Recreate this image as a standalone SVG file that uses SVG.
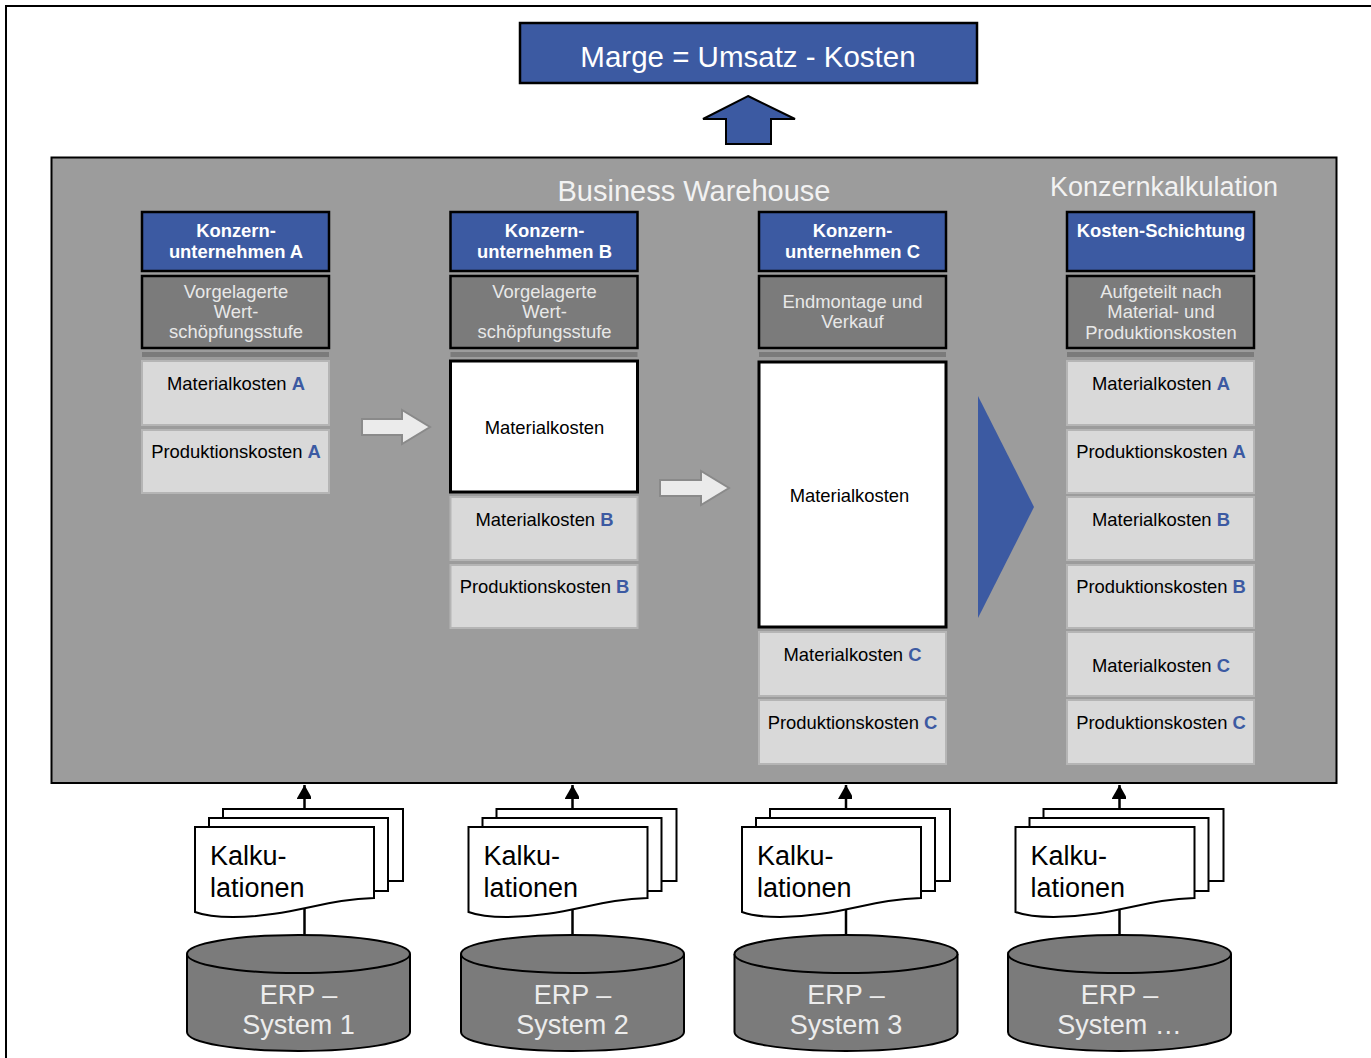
<svg xmlns="http://www.w3.org/2000/svg" width="1371" height="1058" viewBox="0 0 1371 1058">
<style>
text{font-family:"Liberation Sans",Arial,sans-serif;text-anchor:middle}
.blue{fill:#3c5aa2;stroke:#000;stroke-width:2.5}
.dark{fill:#7b7b7b;stroke:#000;stroke-width:2.5}
.light{fill:#d9d9d9;stroke:#b5b5b5;stroke-width:2}
.white{fill:#fff;stroke:#000;stroke-width:3}
.bar{fill:#7b7b7b}
.h{font-size:18.4px;font-weight:bold;fill:#fff}
.g{font-size:18.4px;fill:#e8e8e8}
.t{font-size:18.4px;fill:#000}
.t tspan{font-weight:bold;fill:#3c5aa2}
.big{font-size:27px;fill:#f2f2f2}
.page{fill:#fff;stroke:#000;stroke-width:2}
.kal{font-size:27px;fill:#000;text-anchor:start}
.cyl{fill:#7b7b7b;stroke:#000;stroke-width:2}
.erp{font-size:27px;fill:#ececec}
.gr{fill:#ebebeb;stroke:#8a8a8a;stroke-width:2}
.ln{stroke:#000;stroke-width:2.5;fill:none}
</style>
<defs>
<marker id="ah" markerUnits="userSpaceOnUse" markerWidth="16" markerHeight="14" refX="14" refY="8" orient="auto"><path d="M0 0L14 8L0 16Z" fill="#000"/></marker>
<g id="stack">
<path class="page" d="M28 -18H208V54H28Z"/>
<path class="page" d="M14 -9H193V64H14Z"/>
<path class="page" d="M0 0H179V71C130 72 95 90 38 90C20 90 8 88 0 85Z"/>
</g>
<g id="cylinder">
<path class="cyl" d="M0 19V97C0 108 50 116 111.500 116C173 116 223 108 223 97V19"/>
<ellipse class="cyl" cx="111.500" cy="19" rx="111.500" ry="19"/>
</g>
</defs>
<path id="frame" d="M6 1058V6H1371" fill="none" stroke="#000" stroke-width="2"/>
<g id="marge">
<rect class="blue" x="520" y="23" width="457" height="60"/>
<text x="748" y="67" style="font-size:29.500px;fill:#fff">Marge = Umsatz - Kosten</text>
</g>
<g id="marge-arrow"><path class="blue" style="stroke-width:2" d="M748 96L795 119H771V144H726V119H703Z"/></g>
<g id="panel">
<rect x="51.500" y="157.500" width="1285" height="625.500" fill="#9c9c9c" stroke="#000" stroke-width="2"/>
<text x="694" y="201" class="big" style="font-size:29px">Business Warehouse</text>
<text x="1164" y="196" class="big">Konzernkalkulation</text>
</g>
<g id="col-a">
<rect class="blue" x="142" y="212" width="187" height="59"/>
<text class="h" x="236" y="237">Konzern-</text><text class="h" x="236" y="258">unternehmen A</text>
<rect class="dark" x="142" y="276" width="187" height="72"/>
<text class="g" x="236" y="298">Vorgelagerte</text><text class="g" x="236" y="318">Wert-</text><text class="g" x="236" y="338">schöpfungsstufe</text>
<rect class="bar" x="142" y="352" width="187" height="5"/>
<rect class="light" x="142" y="361" width="187" height="64"/>
<text class="t" x="236" y="390">Materialkosten <tspan>A</tspan></text>
<rect class="light" x="142" y="430" width="187" height="63"/>
<text class="t" x="236" y="458">Produktionskosten <tspan>A</tspan></text>
</g>
<g id="col-b">
<rect class="blue" x="450.500" y="212" width="187" height="59"/>
<text class="h" x="544.500" y="237">Konzern-</text><text class="h" x="544.500" y="258">unternehmen B</text>
<rect class="dark" x="450.500" y="276" width="187" height="72"/>
<text class="g" x="544.500" y="298">Vorgelagerte</text><text class="g" x="544.500" y="318">Wert-</text><text class="g" x="544.500" y="338">schöpfungsstufe</text>
<rect class="bar" x="450.500" y="352" width="187" height="5"/>
<rect class="white" x="450.500" y="361" width="187" height="131"/>
<text class="t" x="544.500" y="434">Materialkosten</text>
<rect class="light" x="450.500" y="497" width="187" height="63"/>
<text class="t" x="544.500" y="526">Materialkosten <tspan>B</tspan></text>
<rect class="light" x="450.500" y="565" width="187" height="63"/>
<text class="t" x="544.500" y="593">Produktionskosten <tspan>B</tspan></text>
</g>
<g id="col-c">
<rect class="blue" x="759" y="212" width="187" height="59"/>
<text class="h" x="852.500" y="237">Konzern-</text><text class="h" x="852.500" y="258">unternehmen C</text>
<rect class="dark" x="759" y="276" width="187" height="72"/>
<text class="g" x="852.500" y="308">Endmontage und</text><text class="g" x="852.500" y="328">Verkauf</text>
<rect class="bar" x="759" y="352" width="187" height="5"/>
<rect class="white" x="759" y="362" width="187" height="265"/>
<text class="t" x="849.500" y="502">Materialkosten</text>
<rect class="light" x="759" y="632" width="187" height="64"/>
<text class="t" x="852.500" y="661">Materialkosten <tspan>C</tspan></text>
<rect class="light" x="759" y="700" width="187" height="64"/>
<text class="t" x="852.500" y="729">Produktionskosten <tspan>C</tspan></text>
</g>
<g id="col-d">
<rect class="blue" x="1067" y="212" width="187" height="59"/>
<text class="h" x="1161" y="237">Kosten-Schichtung</text>
<rect class="dark" x="1067" y="276" width="187" height="72"/>
<text class="g" x="1161" y="298">Aufgeteilt nach</text><text class="g" x="1161" y="318">Material- und</text><text class="g" x="1161" y="339">Produktionskosten</text>
<rect class="bar" x="1067" y="352" width="187" height="5"/>
<rect class="light" x="1067" y="361" width="187" height="64"/>
<text class="t" x="1161" y="390">Materialkosten <tspan>A</tspan></text>
<rect class="light" x="1067" y="430" width="187" height="63"/>
<text class="t" x="1161" y="458">Produktionskosten <tspan>A</tspan></text>
<rect class="light" x="1067" y="497" width="187" height="63"/>
<text class="t" x="1161" y="526">Materialkosten <tspan>B</tspan></text>
<rect class="light" x="1067" y="565" width="187" height="63"/>
<text class="t" x="1161" y="593">Produktionskosten <tspan>B</tspan></text>
<rect class="light" x="1067" y="632" width="187" height="64"/>
<text class="t" x="1161" y="672">Materialkosten <tspan>C</tspan></text>
<rect class="light" x="1067" y="700" width="187" height="64"/>
<text class="t" x="1161" y="729">Produktionskosten <tspan>C</tspan></text>
</g>
<g id="flow-arrows">
<path class="gr" d="M362 419H402V410L430 427L402 444V435H362Z"/>
<path class="gr" d="M660 480H701V471L729 488L701 505V496H660Z"/>
<path d="M978 396L1034 507L978 618Z" fill="#3c5aa2"/>
</g>
<g id="connectors">
<path class="ln" marker-end="url(#ah)" d="M304.500 935V785"/>
<path class="ln" marker-end="url(#ah)" d="M572.500 935V785"/>
<path class="ln" marker-end="url(#ah)" d="M846 935V785"/>
<path class="ln" marker-end="url(#ah)" d="M1119.500 935V785"/>
</g>
<g id="doc-1"><use href="#stack" x="195" y="827"/><text class="kal" x="210" y="865">Kalku-</text><text class="kal" x="210" y="897">lationen</text></g>
<g id="doc-2"><use href="#stack" x="468.500" y="827"/><text class="kal" x="483.500" y="865">Kalku-</text><text class="kal" x="483.500" y="897">lationen</text></g>
<g id="doc-3"><use href="#stack" x="742" y="827"/><text class="kal" x="757" y="865">Kalku-</text><text class="kal" x="757" y="897">lationen</text></g>
<g id="doc-4"><use href="#stack" x="1015.500" y="827"/><text class="kal" x="1030.500" y="865">Kalku-</text><text class="kal" x="1030.500" y="897">lationen</text></g>
<g id="erp-1"><use href="#cylinder" x="187" y="935"/><text class="erp" x="298.500" y="1004">ERP –</text><text class="erp" x="298.500" y="1034">System 1</text></g>
<g id="erp-2"><use href="#cylinder" x="461" y="935"/><text class="erp" x="572.500" y="1004">ERP –</text><text class="erp" x="572.500" y="1034">System 2</text></g>
<g id="erp-3"><use href="#cylinder" x="734.500" y="935"/><text class="erp" x="846" y="1004">ERP –</text><text class="erp" x="846" y="1034">System 3</text></g>
<g id="erp-4"><use href="#cylinder" x="1008" y="935"/><text class="erp" x="1119.500" y="1004">ERP –</text><text class="erp" x="1119.500" y="1034">System …</text></g>
</svg>
